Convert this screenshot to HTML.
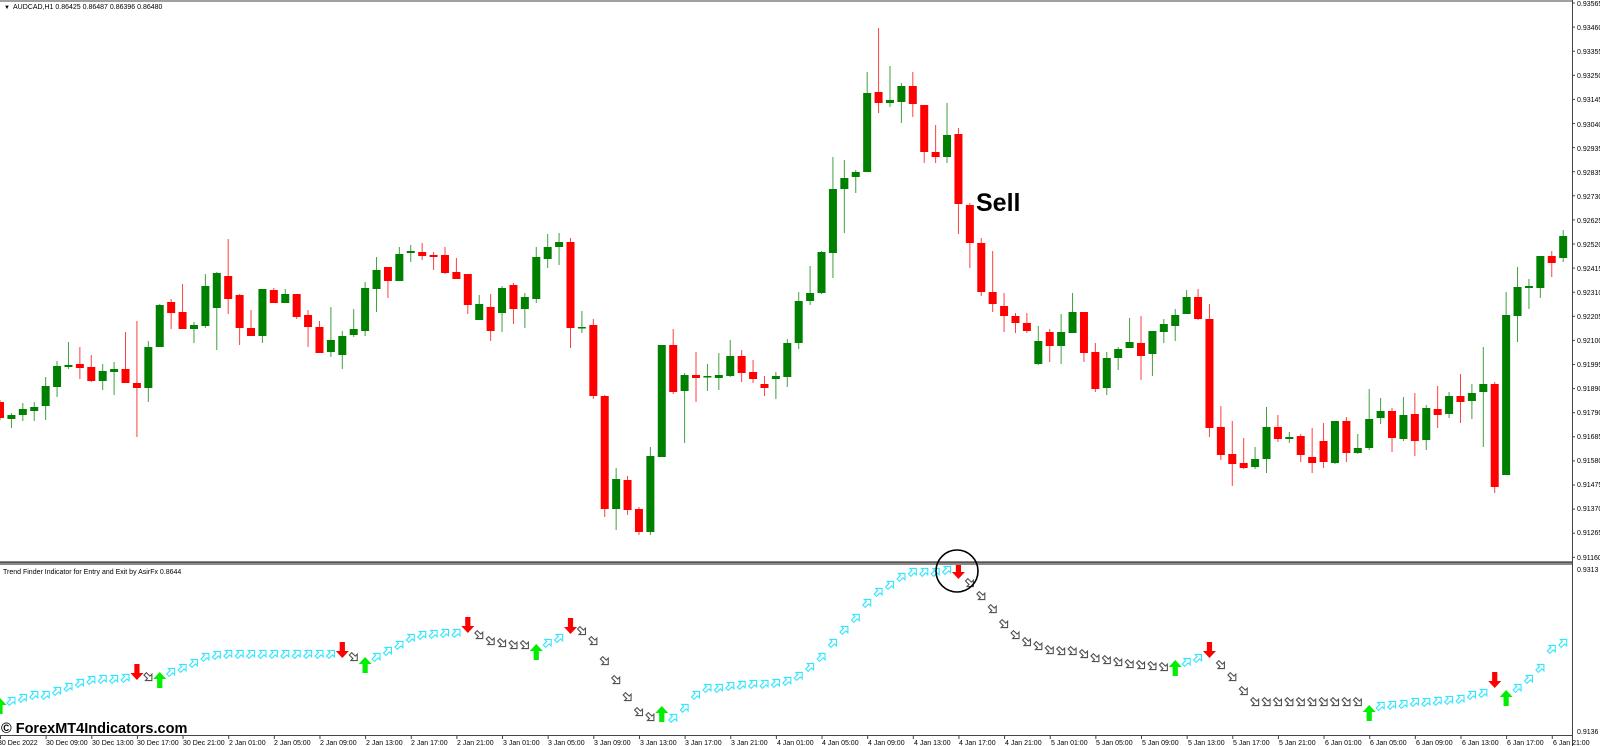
<!DOCTYPE html>
<html><head><meta charset="utf-8"><style>
html,body{margin:0;padding:0;background:#fff;width:1600px;height:746px;overflow:hidden}
svg{display:block}
text{font-family:"Liberation Sans",sans-serif;font-size:7px;fill:#000}
</style></head><body>
<svg id="s" width="1600" height="746" viewBox="0 0 1600 746" xmlns="http://www.w3.org/2000/svg">
<defs>
<polygon id="ha" points="0,-5 4.5,-0.5 1.7,-0.5 1.7,4.5 -1.7,4.5 -1.7,-0.5 -4.5,-0.5"/>
<polygon id="sa" points="0,-8 6.5,-1 2.6,-1 2.6,8 -2.6,8 -2.6,-1 -6.5,-1"/>
</defs>
<rect x="0" y="0" width="1572" height="2" fill="#a0a0a0"/>
<g id="candles"></g>
<g id="ind"></g>
<rect x="0" y="561" width="1572" height="4" fill="#888"/>
<rect x="0" y="562" width="1572" height="1" fill="#555"/>
<line x1="1572.5" y1="0" x2="1572.5" y2="746" stroke="#444" stroke-width="1"/>
<line x1="0" y1="735.5" x2="1572" y2="735.5" stroke="#444" stroke-width="1"/>
<circle cx="957" cy="571" r="21" fill="none" stroke="#000" stroke-width="1.6"/>
<text x="4" y="9" style="font-size:6px">▼</text>
<text x="13" y="9">AUDCAD,H1  0.86425 0.86487 0.86396 0.86480</text>
<text x="3" y="574">Trend Finder Indicator for Entry and Exit by AsirFx 0.8644</text>
<text x="976" y="211" style="font-size:25px;font-weight:bold">Sell</text>
<text x="1" y="733" style="font-size:14.5px;font-weight:bold">© ForexMT4Indicators.com</text>
<g id="pl">
<text x="1577" y="6">0.93565</text><text x="1577" y="30">0.93460</text><text x="1577" y="54">0.93355</text><text x="1577" y="78">0.93250</text><text x="1577" y="102">0.93145</text><text x="1577" y="127">0.93040</text><text x="1577" y="151">0.92935</text><text x="1577" y="175">0.92835</text><text x="1577" y="199">0.92730</text><text x="1577" y="223">0.92625</text><text x="1577" y="247">0.92520</text><text x="1577" y="271">0.92415</text><text x="1577" y="295">0.92310</text><text x="1577" y="319">0.92205</text><text x="1577" y="343">0.92100</text><text x="1577" y="367">0.91995</text><text x="1577" y="391">0.91890</text><text x="1577" y="415">0.91790</text><text x="1577" y="439">0.91685</text><text x="1577" y="463">0.91580</text><text x="1577" y="487">0.91475</text><text x="1577" y="511">0.91370</text><text x="1577" y="535">0.91265</text><text x="1577" y="560">0.91160</text>
<text x="1577" y="572">0.9313</text><text x="1577" y="734">0.9136</text>
</g>
<g id="dl">
<text x="-2" y="745">30 Dec 2022</text><text x="46" y="745">30 Dec 09:00</text><text x="92" y="745">30 Dec 13:00</text><text x="137" y="745">30 Dec 17:00</text><text x="183" y="745">30 Dec 21:00</text><text x="229" y="745">2 Jan 01:00</text><text x="274" y="745">2 Jan 05:00</text><text x="320" y="745">2 Jan 09:00</text><text x="366" y="745">2 Jan 13:00</text><text x="411" y="745">2 Jan 17:00</text><text x="457" y="745">2 Jan 21:00</text><text x="503" y="745">3 Jan 01:00</text><text x="548" y="745">3 Jan 05:00</text><text x="594" y="745">3 Jan 09:00</text><text x="640" y="745">3 Jan 13:00</text><text x="685" y="745">3 Jan 17:00</text><text x="731" y="745">3 Jan 21:00</text><text x="777" y="745">4 Jan 01:00</text><text x="822" y="745">4 Jan 05:00</text><text x="868" y="745">4 Jan 09:00</text><text x="914" y="745">4 Jan 13:00</text><text x="959" y="745">4 Jan 17:00</text><text x="1005" y="745">4 Jan 21:00</text><text x="1051" y="745">5 Jan 01:00</text><text x="1096" y="745">5 Jan 05:00</text><text x="1142" y="745">5 Jan 09:00</text><text x="1188" y="745">5 Jan 13:00</text><text x="1233" y="745">5 Jan 17:00</text><text x="1279" y="745">5 Jan 21:00</text><text x="1325" y="745">6 Jan 01:00</text><text x="1370" y="745">6 Jan 05:00</text><text x="1416" y="745">6 Jan 09:00</text><text x="1462" y="745">6 Jan 13:00</text><text x="1507" y="745">6 Jan 17:00</text><text x="1553" y="745">6 Jan 21:00</text>
</g>
<g id="ticks"></g>
</svg>
<script>
var NS="http://www.w3.org/2000/svg";
function el(p,t,a){var e=document.createElementNS(NS,t);for(var k in a)e.setAttribute(k,a[k]);p.appendChild(e);return e;}
var C=[
"r 402 418 400 420","g 415 419 413 428","g 409 415 403 421","g 407 411 402 421","g 386 406 377 420","g 366 387 361 397","g 365 367 342 369","r 364 368 347 379","r 367 381 355 382","g 371 381 364 390",
"g 369 372 362 395","r 369 383 332 383","r 383 388 321 437","g 347 388 341 402","g 305 347 304 347","r 302 313 299 329","r 312 329 284 329","g 325 329 322 343","g 286 326 274 328","g 273 308 272 350",
"r 276 299 239 314","r 295 328 294 345","r 328 336 310 336","g 289 336 289 343","r 290 303 288 303","g 294 303 289 303","r 294 317 294 319","r 315 327 310 347","r 327 353 321 353","g 340 352 307 357",
"g 336 355 331 369","g 329 335 309 337","g 288 331 282 336","g 270 289 257 312","r 267 281 267 298","g 254 281 247 281","g 251 253 245 262","r 252 256 243 260","r 255 257 252 270","r 255 273 247 274",
"r 272 279 258 279","r 274 305 274 314","g 304 320 295 320","r 307 331 294 341","g 288 313 286 332","r 285 309 283 324","g 297 309 293 328","g 257 299 247 303","g 247 259 234 268","g 242 247 233 265",
"r 242 328 238 348","g 327 328 311 333","r 325 396 319 399","r 396 509 395 517","g 479 509 468 530","r 480 510 476 515","r 509 532 507 535","g 456 532 447 535","g 345 457 345 457","r 345 392 329 394",
"g 375 391 373 443","r 375 378 352 402","g 376 377 364 391","g 375 378 353 390","g 356 376 340 377","r 356 373 350 382","r 372 379 360 383","r 384 388 376 396","g 376 379 372 399","g 343 377 339 387",
"g 301 343 292 349","g 293 301 266 305","g 252 293 251 294","g 189 253 157 278","g 178 189 160 233","g 172 177 170 193","g 93 172 72 172","r 92 103 28 113","g 100 103 66 107","g 86 102 83 123",
"r 86 104 72 117","r 105 152 105 163","r 152 157 125 163","g 135 157 103 163","r 134 204 128 234","r 205 243 203 268","r 243 292 238 296","r 292 304 251 312","r 306 316 293 332","r 316 323 313 333",
"r 323 331 313 333","g 341 364 326 365","r 332 346 329 362","g 332 346 314 364","g 312 333 293 333","r 312 353 312 362","r 352 389 343 392","g 358 388 352 395","g 349 358 347 370","g 342 348 318 348",
"r 343 356 316 380","g 331 354 331 376","g 324 332 319 343","g 315 326 309 341","g 297 314 290 314","r 297 319 289 320","r 319 428 304 437","r 427 455 406 460","r 454 464 421 486","r 463 468 438 469",
"g 459 467 447 469","g 427 459 407 473","r 427 439 415 442","g 437 439 432 443","r 436 455 434 462","r 457 463 428 473","r 441 462 423 468","g 421 463 421 464","r 421 453 417 462","g 448 453 434 454",
"g 419 448 389 450","g 411 418 398 424","r 411 438 408 452","g 415 439 397 441","r 414 441 393 456","g 408 440 405 450","r 409 415 386 428","g 396 414 392 418","r 396 402 374 423","g 393 401 384 419",
"g 384 392 347 447","r 384 487 382 493","g 315 475 292 475","g 287 316 267 342","g 286 288 279 309","g 256 288 256 298","r 256 263 251 277","g 236 258 230 262"];
var cg=document.getElementById("candles");
for(var k=0;k<C.length;k++){var p=C[k].split(" ");var col=p[0]=="r"?"#ff0000":"#008000";var x=11.41*k;
var bt=+p[1],bb=+p[2],wt=+p[3],wb=+p[4];
if(x>1568)continue;
el(cg,"rect",{x:x-0.5,y:wt,width:1,height:Math.max(1,wb-wt),fill:col,opacity:0.75});
el(cg,"rect",{x:x-4,y:bt,width:8,height:Math.max(1.5,bb-bt),fill:col});}
var I=[["G",706]];
var cy=[701,698,695,695,691,687,683,680,679,679,678];cy.forEach(function(v){I.push(["C",v])});
I.push(["R",672],["D",677],["G",680]);
[672,668,663,657,655,654,654,654,654,654,654,654,654,654,654].forEach(function(v){I.push(["C",v])});
I.push(["R",650],["D",657],["G",665]);
[657,651,645,638,635,634,633,633].forEach(function(v){I.push(["C",v])});
I.push(["R",625]);[635,641,643,645,645].forEach(function(v){I.push(["D",v])});
I.push(["G",652],["C",643],["C",638],["R",626]);
[631,641,661,680,697,712,717].forEach(function(v){I.push(["D",v])});
I.push(["G",714]);
[718,708,695,688,688,686,685,684,684,683,681,676,667,657,643,630,618,603,592,585,577,572,572,572,570].forEach(function(v){I.push(["C",v])});
I.push(["R",571]);
[583,596,609,624,635,642,646,650,651,651,654,658,660,662,664,665,666,667].forEach(function(v){I.push(["D",v])});
I.push(["G",668],["C",662],["C",658],["R",650]);
[665,677,691,702,702,702,702,702,702,702,702,702,702].forEach(function(v){I.push(["D",v])});
I.push(["G",713]);
[706,705,704,702,702,701,700,699,695,693].forEach(function(v){I.push(["C",v])});
I.push(["R",680],["G",698],["C",688],["C",679],["C",668],["C",649],["C",643]);
var ig=document.getElementById("ind");
for(var k=0;k<I.length;k++){var x=11.41*k,t=I[k][0],y=I[k][1];if(x>1568)continue;
var u=el(ig,"use",{href:t=="C"||t=="D"?"#ha":"#sa"});
u.setAttributeNS("http://www.w3.org/1999/xlink","xlink:href",t=="C"||t=="D"?"#ha":"#sa");
if(t=="C"){u.setAttribute("transform","translate("+x+","+y+") rotate(45)");u.setAttribute("fill","#fff");u.setAttribute("stroke","#2fe6ff");u.setAttribute("stroke-width","1.1");}
else if(t=="D"){u.setAttribute("transform","translate("+x+","+y+") rotate(135)");u.setAttribute("fill","#fff");u.setAttribute("stroke","#505050");u.setAttribute("stroke-width","1.1");}
else if(t=="R"){u.setAttribute("transform","translate("+x+","+y+") rotate(180)");u.setAttribute("fill","#ff0000");}
else{u.setAttribute("transform","translate("+x+","+y+")");u.setAttribute("fill","#00ee00");}}
var tg=document.getElementById("ticks");
for(var i=0;i<35;i++){var x=45.64*i;el(tg,"line",{x1:x+0.5,y1:735,x2:x+0.5,y2:739,stroke:"#444"});}
for(var i=0;i<24;i++){var y=3+24.1*i;el(tg,"line",{x1:1572,y1:y,x2:1575,y2:y,stroke:"#444"});}
</script>
</body></html>
